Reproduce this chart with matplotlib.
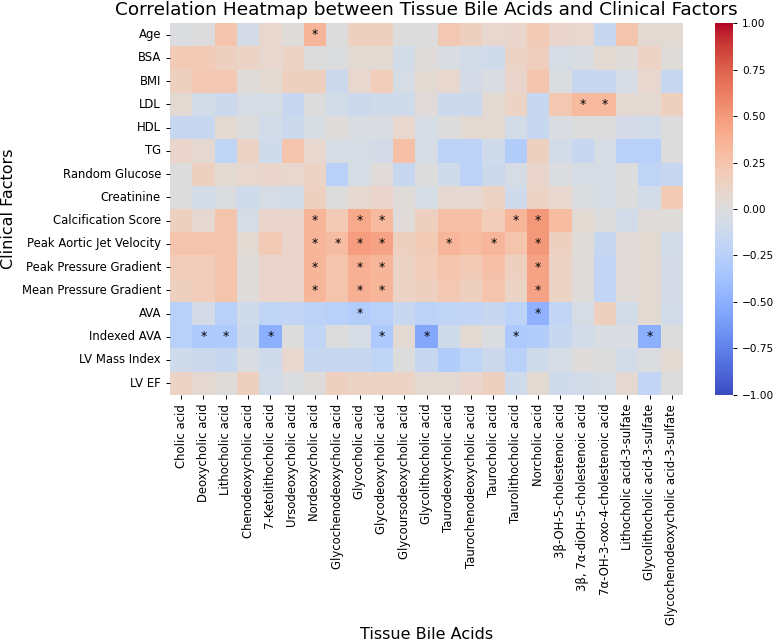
import matplotlib
matplotlib.use('Agg')
import matplotlib.pyplot as plt
import numpy as np
import pandas as pd
import seaborn as sns

bile_acids = ['Cholic acid', 'Deoxycholic acid', 'Lithocholic acid', 'Chenodeoxycholic acid',
              '7-Ketolithocholic acid', 'Ursodeoxycholic acid', 'Nordeoxycholic acid',
              'Glycochenodeoxycholic acid', 'Glycocholic acid', 'Glycodeoxycholic acid',
              'Glycoursodeoxycholic acid', 'Glycolithocholic acid', 'Taurodeoxycholic acid',
              'Taurochenodeoxycholic acid', 'Taurocholic acid', 'Taurolithocholic acid',
              'Norcholic acid', '3β-OH-5-cholestenoic acid', '3β, 7α-diOH-5-cholestenoic acid',
              '7α-OH-3-oxo-4-cholestenoic acid', 'Lithocholic acid-3-sulfate',
              'Glycolithocholic acid-3-sulfate', 'Glycochenodeoxycholic acid-3-sulfate']

clinical = ['Age', 'BSA', 'BMI', 'LDL', 'HDL', 'TG', 'Random Glucose', 'Creatinine',
            'Calcification Score', 'Peak Aortic Jet Velocity', 'Peak Pressure Gradient',
            'Mean Pressure Gradient', 'AVA', 'Indexed AVA', 'LV Mass Index', 'LV EF']

# correlation values (rows = clinical factors, cols = bile acids)
r_age    = [-0.02, 0.00, 0.25, -0.07, 0.08, 0.02, 0.35, 0.00, 0.15, 0.15, 0.00, 0.00, 0.22, 0.15, 0.08, 0.10, 0.20, 0.10, 0.08, -0.15, 0.25, 0.05, 0.05]
r_bsa    = [0.20, 0.20, 0.15, 0.12, 0.08, 0.12, 0.00, -0.02, 0.05, 0.05, -0.08, 0.02, -0.03, -0.08, -0.10, 0.12, 0.17, -0.05, -0.03, 0.05, 0.02, 0.13, 0.02]
r_bmi    = [0.15, 0.22, 0.22, 0.02, 0.05, 0.15, 0.15, -0.12, 0.08, 0.18, -0.05, 0.05, 0.08, -0.07, -0.03, 0.10, 0.25, -0.02, -0.15, -0.15, -0.05, 0.08, -0.15]
r_ldl    = [0.05, -0.08, -0.12, -0.05, -0.05, -0.15, 0.00, -0.08, -0.12, -0.10, -0.10, 0.03, -0.12, -0.12, 0.05, 0.12, -0.15, 0.22, 0.32, 0.32, 0.06, 0.06, 0.15]
r_hdl    = [-0.15, -0.15, 0.05, 0.00, -0.08, -0.12, -0.04, 0.02, -0.03, -0.03, 0.08, -0.05, 0.00, 0.05, 0.05, -0.08, -0.15, -0.03, 0.00, 0.00, -0.07, -0.08, 0.00]
r_tg     = [0.10, 0.07, -0.20, 0.12, -0.10, 0.25, 0.08, -0.05, -0.05, -0.07, 0.28, -0.05, -0.22, -0.22, -0.10, -0.28, 0.15, -0.08, -0.15, -0.05, -0.25, -0.25, 0.00]
r_gluc   = [0.00, 0.15, 0.05, 0.08, 0.10, 0.08, 0.12, -0.25, -0.05, 0.03, -0.15, 0.00, -0.10, -0.22, -0.12, -0.05, 0.10, -0.02, -0.05, -0.05, 0.00, -0.20, -0.15]
r_creat  = [0.00, -0.08, -0.02, -0.10, -0.05, -0.08, 0.15, 0.00, 0.07, 0.10, 0.02, -0.05, 0.07, 0.07, 0.12, -0.10, 0.12, 0.08, -0.02, -0.05, 0.00, -0.08, 0.20]
r_calc   = [0.15, 0.07, 0.25, -0.05, 0.10, 0.10, 0.35, 0.20, 0.42, 0.32, 0.03, 0.15, 0.28, 0.28, 0.18, 0.35, 0.50, 0.30, 0.05, 0.00, -0.08, 0.02, 0.02]
r_pajv   = [0.25, 0.25, 0.25, 0.05, 0.20, 0.10, 0.35, 0.30, 0.48, 0.45, 0.15, 0.20, 0.35, 0.30, 0.35, 0.25, 0.50, 0.15, 0.02, -0.15, 0.03, 0.05, -0.08]
r_ppg    = [0.18, 0.18, 0.25, 0.02, 0.10, 0.10, 0.35, 0.25, 0.38, 0.35, 0.12, 0.18, 0.25, 0.20, 0.28, 0.15, 0.45, 0.12, 0.02, -0.18, 0.03, 0.05, -0.07]
r_mpg    = [0.15, 0.18, 0.25, 0.02, 0.10, 0.10, 0.35, 0.25, 0.38, 0.35, 0.12, 0.15, 0.22, 0.15, 0.25, 0.12, 0.45, 0.12, 0.02, -0.18, 0.03, 0.05, -0.07]
r_ava    = [-0.25, -0.07, -0.25, -0.10, -0.20, -0.18, -0.22, -0.25, -0.28, -0.25, -0.15, -0.22, -0.20, -0.18, -0.15, -0.22, -0.48, -0.18, -0.05, 0.15, -0.08, 0.05, -0.08]
r_iava   = [-0.25, -0.30, -0.30, -0.12, -0.50, 0.00, -0.18, 0.00, -0.05, -0.32, 0.05, -0.55, -0.10, 0.05, -0.02, -0.32, -0.28, -0.15, -0.08, -0.03, -0.03, -0.50, 0.00]
r_lvmi   = [-0.10, -0.12, -0.15, -0.03, -0.10, 0.08, -0.15, -0.15, -0.15, -0.20, 0.00, -0.15, -0.28, -0.20, -0.12, -0.25, -0.10, -0.05, 0.02, 0.00, -0.08, -0.02, 0.05]
r_lvef   = [0.12, 0.07, 0.02, 0.15, -0.08, -0.02, 0.02, 0.15, 0.12, 0.12, 0.12, 0.05, 0.05, 0.10, 0.15, -0.10, 0.05, -0.10, -0.08, -0.05, 0.07, -0.18, 0.00]

# significant cells (row index, column index)
significant = [(0, 6), (3, 18), (3, 19),
               (8, 6), (8, 8), (8, 9), (8, 15), (8, 16),
               (9, 6), (9, 7), (9, 8), (9, 9), (9, 12), (9, 14), (9, 16),
               (10, 6), (10, 8), (10, 9), (10, 16),
               (11, 6), (11, 8), (11, 9), (11, 16),
               (12, 8), (12, 16),
               (13, 1), (13, 2), (13, 4), (13, 9), (13, 11), (13, 15), (13, 21)]

corr = pd.DataFrame([r_age, r_bsa, r_bmi, r_ldl, r_hdl, r_tg, r_gluc, r_creat, r_calc,
                     r_pajv, r_ppg, r_mpg, r_ava, r_iava, r_lvmi, r_lvef],
                    index=clinical, columns=bile_acids)

annot = np.full(corr.shape, '', dtype=object)
for i, j in significant:
    annot[i, j] = '*'

fig = plt.figure(figsize=(7.78, 6.42), dpi=100)
ax = fig.add_axes([0.2185, 0.385, 0.6595, 0.579])
cax = fig.add_axes([0.919, 0.385, 0.023, 0.579])

sns.heatmap(corr, ax=ax, cbar_ax=cax, cmap='coolwarm', vmin=-1, vmax=1, center=0,
            annot=annot, fmt='', annot_kws={'size': 9, 'color': 'black'})

ax.set_title('Correlation Heatmap between Tissue Bile Acids and Clinical Factors', fontsize=13.3)
ax.set_xlabel('Tissue Bile Acids', fontsize=11.5, labelpad=2)
ax.set_ylabel('Clinical Factors', fontsize=11.5)
ax.tick_params(axis='both', labelsize=8.4, length=3, width=0.7)
plt.setp(ax.get_xticklabels(), rotation=90)
plt.setp(ax.get_yticklabels(), rotation=0)
cax.tick_params(labelsize=7.6, length=3, width=0.7)

fig.savefig('out.png', dpi=100)
